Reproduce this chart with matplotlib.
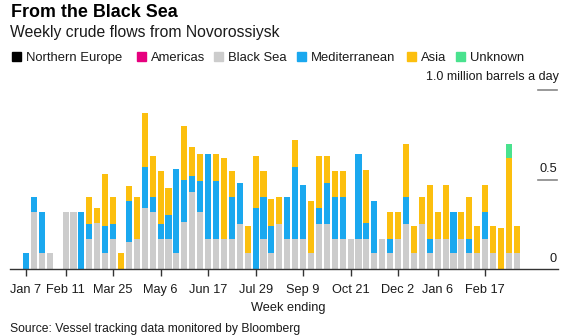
import numpy as np
import pandas as pd
import matplotlib
matplotlib.use("Agg")
import matplotlib.pyplot as plt
from matplotlib.patches import Rectangle

plt.rcParams['font.family'] = ['Liberation Sans', 'DejaVu Sans']

# week ending dates, Jan 7 2018 .. Mar 17 2019
weeks = pd.date_range("2018-01-07", periods=63, freq="7D")

# million barrels a day, per destination
northern_europe = [0.0] * 63
americas = [0.0] * 63
black_sea = [0, .32, .09, .09, 0, .32, .32, 0, .17, .255, .09, .17, 0, .15, .17, .34,
             .32, .17, .17, .09, .26, .43, .32, .17, .17, .17, .17, .25, .09, 0, .17, .09,
             .25, .17, .17, .17, .09, .25, .25, .17, .17, .17, .17, .17, .09, .17, .09, .17,
             .25, .09, .25, .09, .17, .17, .09, .17, .09, .09, .17, .09, 0, .09, .09]
mediterranean = [.09, .08, .23, 0, 0, 0, 0, .32, .08, 0, .15, .08, 0, .23, 0, .23,
                 .08, .08, .13, .47, .24, .09, .17, .47, .32, 0, .23, .23, 0, .34, .23, .15,
                 0, .23, .40, .30, 0, .09, .23, .23, .23, 0, .47, .085, .29, 0, .08, 0,
                 .15, 0, 0, .08, 0, 0, .23, 0, .08, 0, .15, 0, 0, 0, 0]
asia = [0, 0, 0, 0, 0, 0, 0, 0, .15, .085, .29, .15, .09, .085, .23, .30,
        .23, .30, .15, 0, .30, .16, .15, 0, .15, .45, .15, 0, .15, .29, .15, .15,
        .15, 0, .15, 0, .29, .29, .15, .15, .15, 0, 0, .30, 0, 0, .15, .15,
        .30, .15, .15, .30, .15, .30, 0, .15, .23, .15, .15, .15, .23, .53, .15]
unknown = [0.0] * 61 + [.08, 0]

series = [("Northern Europe", northern_europe, "#000000"),
          ("Americas", americas, "#e6007e"),
          ("Black Sea", black_sea, "#cccccc"),
          ("Mediterranean", mediterranean, "#1aa8ef"),
          ("Asia", asia, "#fcbf0e"),
          ("Unknown", unknown, "#49e28e")]

tick_labels = ["Jan 7", "Feb 11", "Mar 25", "May 6", "Jun 17", "Jul 29",
               "Sep 9", "Oct 21", "Dec 2", "Jan 6", "Feb 17"]
tick_dates = pd.to_datetime(["2018-01-07", "2018-02-11", "2018-03-25", "2018-05-06",
                             "2018-06-17", "2018-07-29", "2018-09-09", "2018-10-21",
                             "2018-12-02", "2019-01-06", "2019-02-17"])

fig = plt.figure(figsize=(5.65, 3.36), dpi=100)
W, H = 565, 336
ax = fig.add_axes([10 / W, 1 - 269 / H, 548 / W, 179 / H])

x = np.arange(len(weeks))
bottom = np.zeros(len(weeks))
for name, vals, col in series:
    vals = np.array(vals)
    ax.bar(x, vals, bottom=bottom, width=0.76, color=col, linewidth=0)
    bottom += vals

ax.set_xlim(-2.02, 67.2)
ax.set_ylim(0, 1.0)
for s in ["top", "right", "left"]:
    ax.spines[s].set_visible(False)
ax.spines["bottom"].set_color("#333333")
ax.spines["bottom"].set_linewidth(1.0)
ax.set_yticks([])

tick_pos = [weeks.get_loc(d) for d in tick_dates]
ax.set_xticks(tick_pos)
ax.set_xticklabels(tick_labels, fontsize=9.2, color="#1a1a1a")
ax.tick_params(axis="x", length=5, width=1, color="#333333", pad=6)

# right-side value labels with short stubs
for v, lab in [(0.5, "0.5"), (0.0, "0")]:
    ax.text(67.2 - 0.15, v + 0.04, lab, ha="right", va="baseline", fontsize=9.2, color="#1a1a1a")
for v in [0.5, 1.0]:
    ax.plot([64.65, 67.05], [v, v], color="#888888", lw=1.2, clip_on=False)
fig.text(559 / W, 1 - 80 / H, "1.0 million barrels a day", ha="right", va="baseline",
         fontsize=9.0, color="#1a1a1a")

fig.text(11 / W, 1 - 17 / H, "From the Black Sea", fontsize=12.9, fontweight="bold",
         va="baseline", color="#000000")
fig.text(10 / W, 1 - 37 / H, "Weekly crude flows from Novorossiysk", fontsize=11.3,
         va="baseline", color="#1a1a1a")

# legend row
leg_x = [12, 137, 214, 297, 407, 456]
for (name, vals, col), lx in zip(series, leg_x):
    fig.add_artist(Rectangle((lx / W, 1 - 61 / H), 8.5 / W, 8.5 / H, color=col,
                             transform=fig.transFigure))
    fig.text((lx + 14) / W, 1 - 61 / H, name, fontsize=9.4, va="baseline", color="#1a1a1a")

fig.text(288 / W, 1 - 311 / H, "Week ending", ha="center", va="baseline", fontsize=9.2,
         color="#1a1a1a")
fig.text(10 / W, 1 - 332 / H, "Source: Vessel tracking data monitored by Bloomberg",
         fontsize=8.7, va="baseline", color="#1a1a1a")

fig.savefig("out.png", dpi=100)
